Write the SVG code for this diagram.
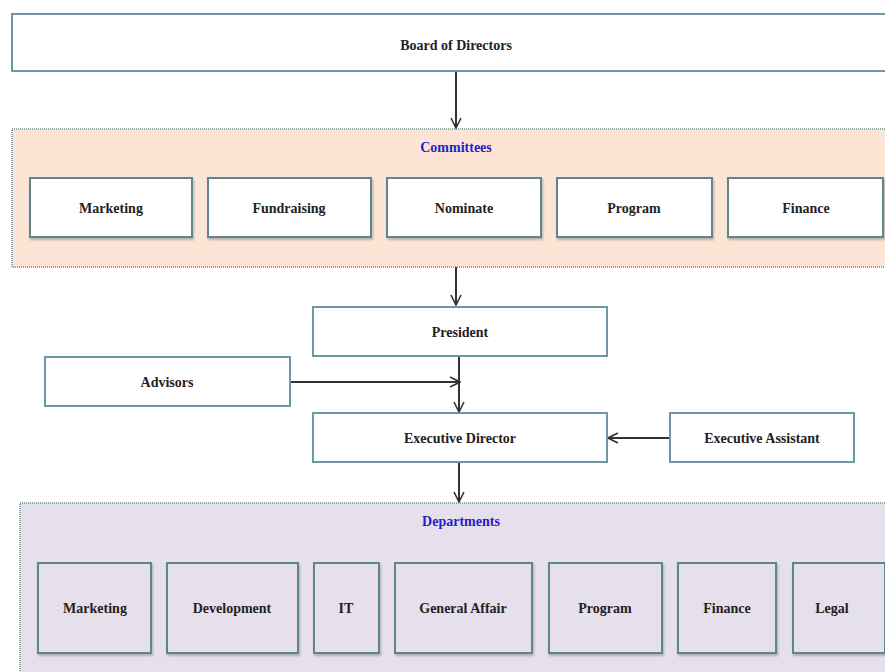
<svg xmlns="http://www.w3.org/2000/svg" width="885" height="672" viewBox="0 0 885 672">
<defs>
<marker id="arr" viewBox="0 0 12 12" refX="11" refY="6" markerWidth="12" markerHeight="12" markerUnits="userSpaceOnUse" orient="auto">
<path d="M1,1 L11,6 L1,11" fill="none" stroke="#333" stroke-width="1.6"/>
</marker>
<filter id="sh" x="-5%" y="-5%" width="110%" height="120%">
<feDropShadow dx="1" dy="2" stdDeviation="1" flood-color="#777" flood-opacity="0.5"/>
</filter>
</defs>
<style>
.box{fill:#fff;stroke:#6b9aa4;stroke-width:2}
.cbox{fill:#fff;stroke:#5e8590;stroke-width:2;filter:url(#sh)}
.dbox{fill:#e6e0ec;stroke:#5e8590;stroke-width:2;filter:url(#sh)}
.cont{stroke:#8aa8aa;stroke-width:2;stroke-dasharray:1 1}
.t{font-family:"Liberation Serif","Times New Roman",serif;font-weight:bold;font-size:14px;fill:#222;text-anchor:middle;dominant-baseline:central}
.h{font-family:"Liberation Serif","Times New Roman",serif;font-weight:bold;font-size:14px;fill:#2222cc;text-anchor:middle;dominant-baseline:central}
.c{fill:none;stroke:#333;stroke-width:2;marker-end:url(#arr)}
</style>
<rect width="885" height="672" fill="#fff"/>
<g id="committees">
<rect class="cont" x="12" y="129" width="880" height="138" fill="#fce5d5"/>
<text class="h" x="456" y="147">Committees</text>
</g>
<g id="departments">
<rect class="cont" x="20" y="503" width="875" height="180" fill="#e6e0ec"/>
<text class="h" x="461" y="521">Departments</text>
</g>
<g id="connectors">
<line class="c" x1="456" y1="72" x2="456" y2="128"/>
<line class="c" x1="456" y1="267" x2="456" y2="305"/>
<line class="c" x1="459" y1="357" x2="459" y2="412"/>
<line class="c" x1="290" y1="382" x2="460" y2="382"/>
<line class="c" x1="670" y1="438" x2="608" y2="438"/>
<line class="c" x1="459" y1="463" x2="459" y2="502"/>
</g>
<g id="board"><rect class="box" x="12" y="14" width="885" height="57"/><text class="t" x="456" y="45">Board of Directors</text></g>
<g id="c-marketing"><rect class="cbox" x="30" y="178" width="162" height="59"/><text class="t" x="111" y="208">Marketing</text></g>
<g id="c-fundraising"><rect class="cbox" x="208" y="178" width="163" height="59"/><text class="t" x="289" y="208">Fundraising</text></g>
<g id="c-nominate"><rect class="cbox" x="387" y="178" width="154" height="59"/><text class="t" x="464" y="208">Nominate</text></g>
<g id="c-program"><rect class="cbox" x="557" y="178" width="155" height="59"/><text class="t" x="634" y="208">Program</text></g>
<g id="c-finance"><rect class="cbox" x="728" y="178" width="155" height="59"/><text class="t" x="806" y="208">Finance</text></g>
<g id="president"><rect class="box" x="313" y="307" width="294" height="49"/><text class="t" x="460" y="332">President</text></g>
<g id="advisors"><rect class="box" x="45" y="357" width="245" height="49"/><text class="t" x="167" y="382">Advisors</text></g>
<g id="exec-director"><rect class="box" x="313" y="413" width="294" height="49"/><text class="t" x="460" y="438">Executive Director</text></g>
<g id="exec-assistant"><rect class="box" x="670" y="413" width="184" height="49"/><text class="t" x="762" y="438">Executive Assistant</text></g>
<g id="d-marketing"><rect class="dbox" x="38" y="563" width="113" height="90"/><text class="t" x="95" y="608">Marketing</text></g>
<g id="d-development"><rect class="dbox" x="167" y="563" width="131" height="90"/><text class="t" x="232" y="608">Development</text></g>
<g id="d-it"><rect class="dbox" x="314" y="563" width="65" height="90"/><text class="t" x="346" y="608">IT</text></g>
<g id="d-general"><rect class="dbox" x="395" y="563" width="137" height="90"/><text class="t" x="463" y="608">General Affair</text></g>
<g id="d-program"><rect class="dbox" x="549" y="563" width="113" height="90"/><text class="t" x="605" y="608">Program</text></g>
<g id="d-finance"><rect class="dbox" x="678" y="563" width="98" height="90"/><text class="t" x="727" y="608">Finance</text></g>
<g id="d-legal"><rect class="dbox" x="793" y="563" width="92" height="90"/><text class="t" x="832" y="608">Legal</text></g>
</svg>
